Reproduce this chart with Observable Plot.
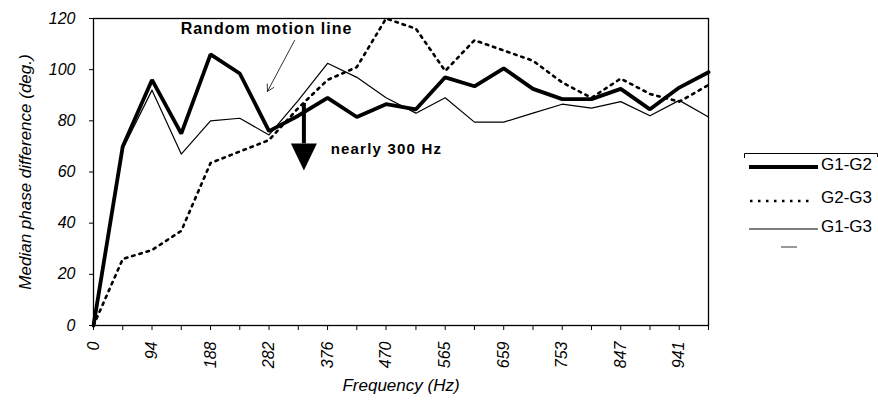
<!DOCTYPE html>
<html>
<head>
<meta charset="utf-8">
<script src="https://cdn.jsdelivr.net/npm/d3@7"></script>
<script src="https://cdn.jsdelivr.net/npm/@observablehq/plot@0.6"></script>
<style>
  html, body { margin: 0; padding: 0; background: #fff; }
  #wrap { position: relative; width: 878px; height: 406px; font-family: "Liberation Sans", Arial, sans-serif; }
  .ann text { letter-spacing: 1px; }
  .ann2 text { letter-spacing: 1.2px; }
  #legend { position: absolute; left: 744px; top: 153px; }
</style>
</head>
<body>
<div id="wrap">
  <div id="chart"></div>
  <svg id="legend" width="134" height="100" xmlns="http://www.w3.org/2000/svg"></svg>
</div>
<script>
// Frequencies (Hz) of the data points
const freqs = [0, 47, 94, 141, 188, 235, 282, 329, 376, 423, 470, 518, 565, 612, 659, 706, 753, 800, 847, 894, 941, 988];
// Tick labels shown on the x axis
const xLabels = [0, 94, 188, 282, 376, 470, 565, 659, 753, 847, 941];
const yTicks = [0, 20, 40, 60, 80, 100, 120];
// Series
const seriesNames = ["G1-G2", "G2-G3", "G1-G3"];
const g1g2 = [0, 70, 96, 75, 106, 98.5, 76, 82, 89, 81.5, 86.5, 84.5, 97, 93.5, 100.5, 92.5, 88.5, 88.5, 92.5, 84.5, 93, 99];
const g2g3 = [0, 26, 29.5, 37, 63.5, 68, 72.5, 85, 96, 101, 120, 116, 99.5, 111.5, 107.5, 103.5, 95, 89, 96.5, 90.5, 87.5, 94];
const g1g3 = [0, 69, 92, 67, 80, 81, 74.5, 88, 102.5, 97, 89, 83, 89, 79.5, 79.5, 83, 86.5, 85, 87.5, 82, 88, 81.5];
// Annotations (data space)
const annText1 = ["Random motion line"];
const annText1Pos = [278, 116];
const annArrow1 = [{x1: 323, y1: 111.4, x2: 279.5, y2: 91.5}];
const annText2 = ["nearly 300 Hz"];
const annText2Pos = [381, 68.8];
const annArrow2X = [338];
const annArrow2Y = [86.8, 71.0];
const annHeadY = [65.9];

const rows = (vals) => freqs.map((f, i) => ({f, v: vals[i]}));

const tri = { draw(ctx) { ctx.moveTo(-13, -13.5); ctx.lineTo(13, -13.5); ctx.lineTo(0, 13.5); ctx.closePath(); } };

const plot = Plot.plot({
  width: 878,
  height: 406,
  marginLeft: 93,
  marginRight: 170,
  marginTop: 18,
  marginBottom: 81,
  style: { fontFamily: "'Liberation Sans', Arial, sans-serif", background: "#fff", color: "#000" },
  x: { type: "linear", domain: [0, 988] },
  y: { domain: [0, 120] },
  marks: [
    Plot.frame({ stroke: "#000", strokeWidth: 1.3 }),
    Plot.axisY({ ticks: yTicks, tickSize: 4, tickPadding: 14, fontSize: 16, fontStyle: "italic", label: null, tickFormat: d => String(d) }),
    Plot.axisX({ ticks: freqs, tickSize: 5, tickPadding: 11, tickRotate: -90, fontSize: 16, fontStyle: "italic", label: null,
                 tickFormat: d => xLabels.includes(d) ? String(d) : "" }),
    Plot.text(["Median phase difference (deg.)"], { frameAnchor: "left", dx: -68, rotate: -90, textAnchor: "middle", fontSize: 17, fontStyle: "italic", text: d => d }),
    Plot.text(["Frequency (Hz)"], { frameAnchor: "bottom", dy: 65, fontSize: 17, fontStyle: "italic", text: d => d }),
    Plot.line(rows(g1g3), { x: "f", y: "v", stroke: "#000", strokeWidth: 1.2 }),
    Plot.line(rows(g2g3), { x: "f", y: "v", stroke: "#000", strokeWidth: 2.6, strokeDasharray: "2.5,5" }),
    Plot.line(rows(g1g2), { x: "f", y: "v", stroke: "#000", strokeWidth: 3.8, strokeLinejoin: "miter" }),
    Plot.text(annText1, { x: () => annText1Pos[0], y: () => annText1Pos[1], text: d => d, fontSize: 16, fontWeight: "bold", className: "ann" }),
    Plot.arrow(annArrow1, { x1: "x1", y1: "y1", x2: "x2", y2: "y2", stroke: "#000", strokeWidth: 0.8, headLength: 14 }),
    Plot.ruleX(annArrow2X, { x: d => d, y1: annArrow2Y[0], y2: annArrow2Y[1], stroke: "#000", strokeWidth: 4 }),
    Plot.dot(annArrow2X, { x: d => d, y: () => annHeadY[0], symbol: tri, fill: "#000", stroke: "none", r: 10 }),
    Plot.text(annText2, { x: () => annText2Pos[0], y: () => annText2Pos[1], text: d => d, fontSize: 15, fontWeight: "bold", textAnchor: "start", className: "ann2" })
  ]
});
document.getElementById("chart").appendChild(plot);

// Legend (drawn as a small SVG to the right of the chart)
const legend = document.getElementById("legend");
const entries = [
  { lineY: 14, textY: 11, w: 4, dash: null, x1: 5, x2: 74 },
  { lineY: 48, textY: 44, w: 2.6, dash: "2.5,5.5", x1: 6, x2: 70 },
  { lineY: 76, textY: 73, w: 1.2, dash: null, x1: 5, x2: 74 }
];
let html = '<path d="M0.5,5 V0.5 H133.5 V4" fill="none" stroke="#000" stroke-width="1"/>' +
  '<rect x="37" y="93" width="16" height="2" fill="#999"/>';
seriesNames.forEach((name, i) => {
  const e = entries[i];
  html += `<line x1="${e.x1}" x2="${e.x2}" y1="${e.lineY}" y2="${e.lineY}" stroke="#000" stroke-width="${e.w}"${e.dash ? ` stroke-dasharray="${e.dash}"` : ""}/>`;
  html += `<text x="77" y="${e.textY}" dominant-baseline="central" font-family="'Liberation Sans', Arial, sans-serif" font-size="17" fill="#000">${name}</text>`;
});
legend.innerHTML = html;
</script>
</body>
</html>
